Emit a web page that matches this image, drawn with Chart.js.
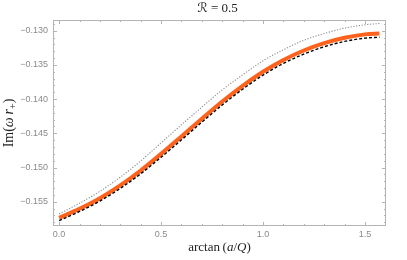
<!DOCTYPE html>
<html>
<head>
<meta charset="utf-8">
<script src="https://cdn.jsdelivr.net/npm/chart.js@4/dist/chart.umd.min.js"></script>
<style>
  html, body { margin: 0; padding: 0; background: #fff; }
  #wrap { width: 407px; height: 260px; }
</style>
</head>
<body>
<div id="wrap"><canvas id="qnmChart"></canvas></div>
<script>
// arctan(a/Q) sample points
const xVals = [0, 0.1, 0.2, 0.3, 0.4, 0.5, 0.6, 0.7, 0.8, 0.9, 1.0, 1.1, 1.2, 1.3, 1.4, 1.5, 1.5708];

// Im(omega r+)
const orangeVals = [-0.15735, -0.15602, -0.15447, -0.15260, -0.15044, -0.14800, -0.14545, -0.14287,
    -0.14035, -0.13805, -0.13600, -0.13428, -0.13290, -0.13182, -0.13103, -0.13054, -0.13041];
const blackVals = [-0.15775, -0.15642, -0.15489, -0.15304, -0.15091, -0.14849, -0.14595, -0.14337,
    -0.14085, -0.13855, -0.13650, -0.13478, -0.13342, -0.13235, -0.13157, -0.13109, -0.13096];
const grayVals = [-0.15675, -0.15522, -0.15347, -0.15140, -0.14904, -0.14640, -0.14375, -0.14117,
    -0.13865, -0.13645, -0.13440, -0.13278, -0.13140, -0.13042, -0.12963, -0.12914, -0.12895];

// tick labels
const xTicks = [0, 0.5, 1.0, 1.5];
const yTicks = [-0.155, -0.150, -0.145, -0.140, -0.135, -0.130];

const toPoints = (ys) => xVals.map((x, i) => ({ x: x, y: ys[i] }));

// draw a line of text with some italic / subscript parts, centred on x
const drawRich = (ctx, parts, x, y, size) => {
    const fontOf = (p) => (p.i ? 'italic ' : '') + (p.sub ? size * 0.72 : size) + 'px ' +
        (p.f || '"Liberation Serif", "DejaVu Serif", serif');
    let total = 0;
    parts.forEach((p) => {
        ctx.font = fontOf(p);
        p.w = ctx.measureText(p.t).width;
        total += p.w;
    });
    let cx = x - total / 2;
    parts.forEach((p) => {
        ctx.font = fontOf(p);
        ctx.fillText(p.t, cx, p.sub ? y + size * 0.3 : y);
        cx += p.w;
    });
};

// frame with inward ticks, like a Mathematica frame
const framePlugin = {
    id: 'frame',
    beforeDatasetsDraw(chart) {
        const { ctx, chartArea: a, scales } = chart;
        const xs = scales.x, ys = scales.y;
        ctx.save();
        ctx.strokeStyle = '#b4b4b4';
        ctx.lineWidth = 1;
        ctx.strokeRect(a.left + 0.5, a.top + 0.5, a.right - a.left - 1, a.bottom - a.top - 1);

        ctx.beginPath();
        // x ticks, major every 0.5, minor every 0.1
        for (let k = 0; k <= 16; k++) {
            const v = k / 10;
            const px = Math.round(xs.getPixelForValue(v)) + 0.5;
            const len = k % 5 === 0 ? 4 : 2;
            ctx.moveTo(px, a.bottom); ctx.lineTo(px, a.bottom - len);
            ctx.moveTo(px, a.top); ctx.lineTo(px, a.top + len);
        }
        // y ticks, major every 0.005, minor every 0.001
        for (let k = 129; k <= 158; k++) {
            const v = -k / 1000;
            const py = Math.round(ys.getPixelForValue(v)) + 0.5;
            if (py < a.top || py > a.bottom) continue;
            const len = k % 5 === 0 ? 4 : 2;
            ctx.moveTo(a.left, py); ctx.lineTo(a.left + len, py);
            ctx.moveTo(a.right, py); ctx.lineTo(a.right - len, py);
        }
        ctx.stroke();
        ctx.restore();
    },
    afterDraw(chart) {
        const { ctx, chartArea: a } = chart;
        ctx.save();
        ctx.fillStyle = '#222';
        ctx.textBaseline = 'middle';
        ctx.textAlign = 'left';
        const midX = (a.left + a.right) / 2;

        // title
        drawRich(ctx, [{ t: '\u211B', f: '"DejaVu Sans", serif' }, { t: ' = 0.5' }], midX - 2, 9, 13);

        // x axis title
        drawRich(ctx, [{ t: 'arctan\u2009(' }, { t: 'a', i: true }, { t: '/' }, { t: 'Q', i: true }, { t: ')' }],
            midX, 248, 13);

        // y axis title
        ctx.translate(9, (a.top + a.bottom) / 2);
        ctx.rotate(-Math.PI / 2);
        drawRich(ctx, [{ t: 'Im(' }, { t: '\u03C9', i: true }, { t: '\u2009' }, { t: 'r', i: true },
            { t: '+', sub: true }, { t: ')' }], 0, 0, 14);
        ctx.restore();
    }
};

const ctx = document.getElementById('qnmChart').getContext('2d');

window.qnmChartInstance = new Chart(ctx, {
    type: 'line',
    data: {
        datasets: [
            {
                label: 'black dashed',
                data: toPoints(blackVals),
                borderColor: '#000',
                borderWidth: 1.4,
                borderDash: [3, 2],
                pointRadius: 0,
                cubicInterpolationMode: 'monotone',
                fill: false,
            },
            {
                label: 'orange',
                data: toPoints(orangeVals),
                borderColor: 'rgb(255, 98, 28)',
                borderWidth: 4,
                pointRadius: 0,
                cubicInterpolationMode: 'monotone',
                fill: false,
            },
            {
                label: 'gray dotted',
                data: toPoints(grayVals),
                borderColor: '#8c8c8c',
                borderWidth: 1.1,
                borderDash: [1.2, 1.6],
                pointRadius: 0,
                cubicInterpolationMode: 'monotone',
                fill: false,
            },
        ],
    },
    options: {
        responsive: true,
        maintainAspectRatio: false,
        animation: false,
        layout: { padding: { top: 20, right: 21, left: 0, bottom: 0 } },
        plugins: {
            legend: { display: false },
            tooltip: { enabled: false },
        },
        scales: {
            x: {
                type: 'linear',
                min: -0.03,
                max: 1.603,
                grid: { display: false, drawTicks: false },
                border: { display: false },
                afterBuildTicks: (s) => { s.ticks = xTicks.map((v) => ({ value: v })); },
                afterFit: (s) => { s.height = 34; },
                ticks: {
                    color: '#8a8a8a',
                    padding: 3,
                    maxRotation: 0,
                    font: { family: '"Liberation Sans", sans-serif', size: 9 },
                    callback: (v) => Number(v).toFixed(1),
                },
            },
            y: {
                type: 'linear',
                min: -0.15854,
                max: -0.12844,
                grid: { display: false, drawTicks: false },
                border: { display: false },
                afterBuildTicks: (s) => { s.ticks = yTicks.map((v) => ({ value: v })); },
                afterFit: (s) => { s.width = 53; },
                ticks: {
                    color: '#8a8a8a',
                    padding: 5,
                    font: { family: '"Liberation Sans", sans-serif', size: 9 },
                    callback: (v) => '\u2212' + Math.abs(v).toFixed(3),
                },
            },
        },
    },
    plugins: [framePlugin],
});
</script>
</body>
</html>
